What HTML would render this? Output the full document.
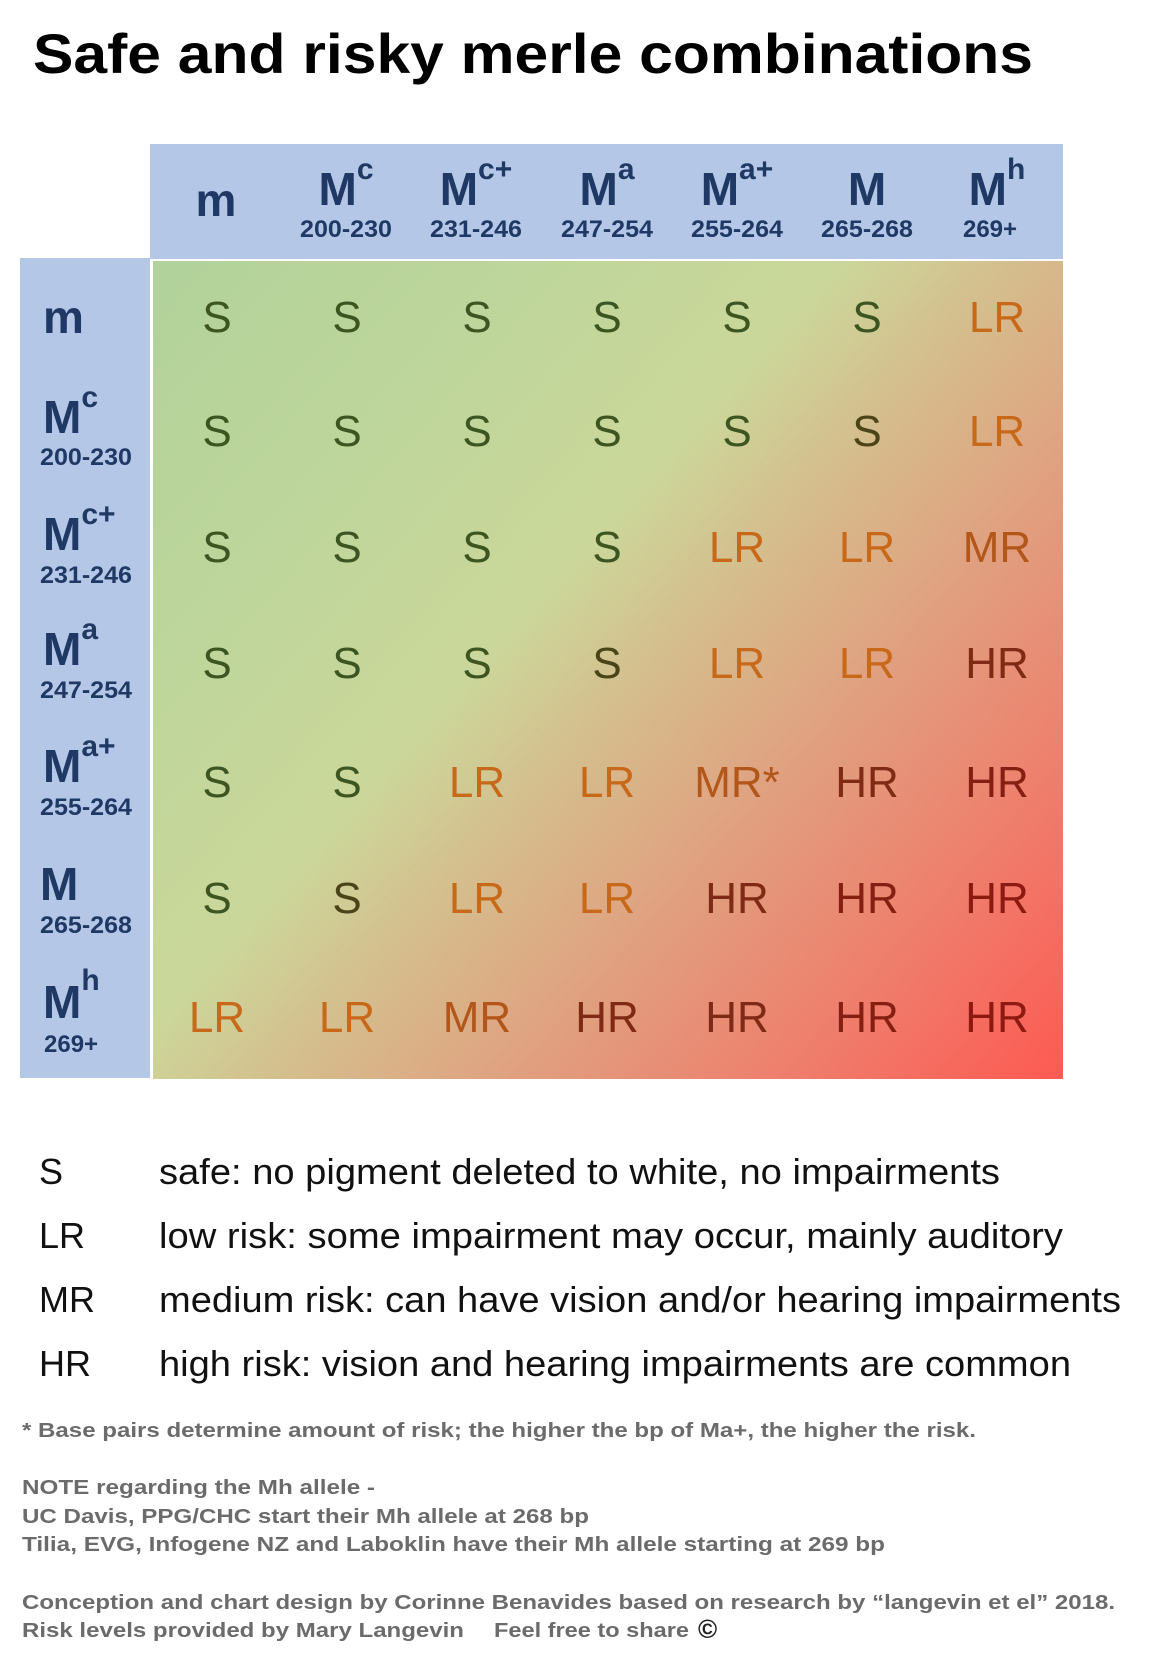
<!DOCTYPE html>
<html><head><meta charset="utf-8"><style>
html,body{margin:0;padding:0;background:#fff;}
svg{display:block;}
</style></head><body>
<svg width="1168" height="1676" viewBox="0 0 1168 1676" xmlns="http://www.w3.org/2000/svg">
<defs>
<linearGradient id="g" x1="152" y1="261" x2="1063" y2="1079" gradientUnits="userSpaceOnUse">
<stop offset="0" stop-color="#b1d29b"/>
<stop offset="0.25" stop-color="#bfd69b"/>
<stop offset="0.42" stop-color="#cbd79a"/>
<stop offset="0.52" stop-color="#d4bf8e"/>
<stop offset="0.7" stop-color="#e3997c"/>
<stop offset="0.85" stop-color="#f07a6a"/>
<stop offset="1" stop-color="#fd5a52"/>
</linearGradient>
</defs>
<text x="33" y="73" font-family="Liberation Sans, sans-serif" font-weight="bold" font-size="56" textLength="1000" lengthAdjust="spacingAndGlyphs" fill="#000">Safe and risky merle combinations</text>

<rect x="150" y="144" width="913" height="115" fill="#b4c7e7"/>
<rect x="20" y="258" width="130" height="820" fill="#b4c7e7"/>
<rect x="153" y="261" width="910" height="818" fill="url(#g)"/>

<g font-family="Liberation Sans, sans-serif" font-weight="bold" fill="#1f3864">
<text x="216" y="216" font-size="46" text-anchor="middle">m</text>
<text x="346" y="205" font-size="46" text-anchor="middle">M<tspan font-size="30" dy="-26">c</tspan></text>
<text x="476" y="205" font-size="46" text-anchor="middle">M<tspan font-size="30" dy="-26">c+</tspan></text>
<text x="607" y="205" font-size="46" text-anchor="middle">M<tspan font-size="30" dy="-26">a</tspan></text>
<text x="737" y="205" font-size="46" text-anchor="middle">M<tspan font-size="30" dy="-26">a+</tspan></text>
<text x="867" y="205" font-size="46" text-anchor="middle">M</text>
<text x="997" y="205" font-size="46" text-anchor="middle">M<tspan font-size="30" dy="-26">h</tspan></text>
<g font-size="24" text-anchor="middle">
<text x="346" y="237" textLength="92" lengthAdjust="spacingAndGlyphs">200-230</text>
<text x="476" y="237" textLength="92" lengthAdjust="spacingAndGlyphs">231-246</text>
<text x="607" y="237" textLength="92" lengthAdjust="spacingAndGlyphs">247-254</text>
<text x="737" y="237" textLength="92" lengthAdjust="spacingAndGlyphs">255-264</text>
<text x="867" y="237" textLength="92" lengthAdjust="spacingAndGlyphs">265-268</text>
<text x="990" y="237">269+</text>
</g>
<text x="43" y="333" font-size="46">m</text>
<text x="43" y="433" font-size="46">M<tspan font-size="30" dy="-26">c</tspan></text>
<text x="43" y="550" font-size="46">M<tspan font-size="30" dy="-26">c+</tspan></text>
<text x="43" y="665" font-size="46">M<tspan font-size="30" dy="-26">a</tspan></text>
<text x="43" y="782" font-size="46">M<tspan font-size="30" dy="-26">a+</tspan></text>
<text x="40" y="900" font-size="46">M</text>
<text x="43" y="1018" font-size="46">M<tspan font-size="30" dy="-28">h</tspan></text>
<g font-size="24">
<text x="40" y="465" textLength="92" lengthAdjust="spacingAndGlyphs">200-230</text>
<text x="40" y="583" textLength="92" lengthAdjust="spacingAndGlyphs">231-246</text>
<text x="40" y="698" textLength="92" lengthAdjust="spacingAndGlyphs">247-254</text>
<text x="40" y="815" textLength="92" lengthAdjust="spacingAndGlyphs">255-264</text>
<text x="40" y="933" textLength="92" lengthAdjust="spacingAndGlyphs">265-268</text>
<text x="44" y="1052">269+</text>
</g>
</g>

<g font-family="Liberation Sans, sans-serif" font-size="44" text-anchor="middle">
<!-- row m -->
<g fill="#3d5520">
<text x="217" y="332">S</text><text x="347" y="332">S</text><text x="477" y="332">S</text><text x="607" y="332">S</text><text x="737" y="332">S</text><text x="867" y="332">S</text>
<text x="217" y="446">S</text><text x="347" y="446">S</text><text x="477" y="446">S</text><text x="607" y="446">S</text><text x="737" y="446">S</text><text x="867" y="446" fill="#4a4418">S</text>
<text x="217" y="562">S</text><text x="347" y="562">S</text><text x="477" y="562">S</text><text x="607" y="562">S</text>
<text x="217" y="678">S</text><text x="347" y="678">S</text><text x="477" y="678">S</text><text x="607" y="678" fill="#4a4418">S</text>
<text x="217" y="797">S</text><text x="347" y="797">S</text>
<text x="217" y="913">S</text><text x="347" y="913" fill="#4a4418">S</text>
</g>
<g fill="#c8691a">
<text x="997" y="332">LR</text><text x="997" y="446">LR</text>
<text x="737" y="562">LR</text><text x="867" y="562">LR</text>
<text x="737" y="678">LR</text><text x="867" y="678">LR</text>
<text x="477" y="797">LR</text><text x="607" y="797">LR</text>
<text x="477" y="913">LR</text><text x="607" y="913">LR</text>
<text x="217" y="1032">LR</text><text x="347" y="1032">LR</text>
</g>
<g fill="#b3561a">
<text x="997" y="562">MR</text>
<text x="737" y="797">MR*</text>
<text x="477" y="1032">MR</text>
</g>
<g fill="#7f2a14">
<text x="997" y="678">HR</text>
<text x="867" y="797">HR</text><text x="997" y="797" fill="#851f12">HR</text>
<text x="737" y="913">HR</text><text x="867" y="913" fill="#851f12">HR</text><text x="997" y="913" fill="#8c1a10">HR</text>
<text x="607" y="1032">HR</text><text x="737" y="1032">HR</text><text x="867" y="1032" fill="#851f12">HR</text><text x="997" y="1032" fill="#8c1a10">HR</text>
</g>
</g>

<g font-family="Liberation Sans, sans-serif" font-size="36" fill="#111">
<text x="39" y="1184">S</text>
<text x="39" y="1248">LR</text>
<text x="39" y="1312">MR</text>
<text x="39" y="1376">HR</text>
<text x="159" y="1184" textLength="841" lengthAdjust="spacingAndGlyphs">safe: no pigment deleted to white, no impairments</text>
<text x="159" y="1248" textLength="904" lengthAdjust="spacingAndGlyphs">low risk: some impairment may occur, mainly auditory</text>
<text x="159" y="1312" textLength="962" lengthAdjust="spacingAndGlyphs">medium risk: can have vision and/or hearing impairments</text>
<text x="159" y="1376" textLength="912" lengthAdjust="spacingAndGlyphs">high risk: vision and hearing impairments are common</text>
</g>

<g font-family="Liberation Sans, sans-serif" font-size="20" font-weight="bold" fill="#6b6b6b">
<text x="22" y="1437" textLength="954" lengthAdjust="spacingAndGlyphs">* Base pairs determine amount of risk; the higher the bp of Ma+, the higher the risk.</text>
<text x="22" y="1494" textLength="353" lengthAdjust="spacingAndGlyphs">NOTE regarding the Mh allele -</text>
<text x="22" y="1523" textLength="567" lengthAdjust="spacingAndGlyphs">UC Davis, PPG/CHC start their Mh allele at 268 bp</text>
<text x="22" y="1551" textLength="863" lengthAdjust="spacingAndGlyphs">Tilia, EVG, Infogene NZ and Laboklin have their Mh allele starting at 269 bp</text>
<text x="22" y="1609" textLength="1093" lengthAdjust="spacingAndGlyphs">Conception and chart design by Corinne Benavides based on research by “langevin et el” 2018.</text>
<text x="22" y="1637" textLength="442" lengthAdjust="spacingAndGlyphs">Risk levels provided by Mary Langevin</text>
<text x="494" y="1637" textLength="195" lengthAdjust="spacingAndGlyphs">Feel free to share</text>
<text x="698" y="1638" font-size="26" fill="#222">©</text>
</g>
</svg>
</body></html>
